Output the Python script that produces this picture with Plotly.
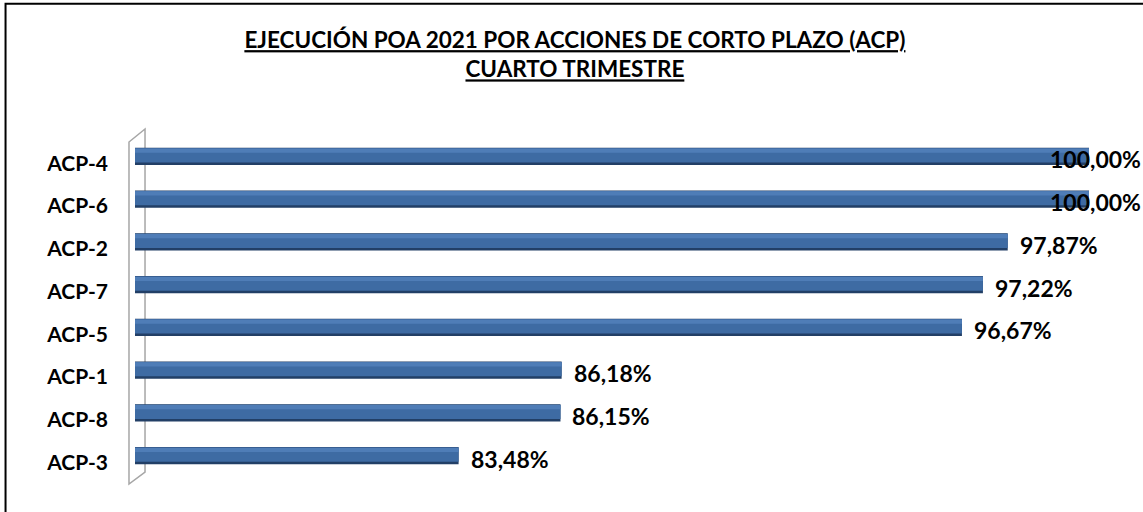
import plotly.graph_objects as go

# datos (de arriba hacia abajo)
acciones = ["ACP-4", "ACP-6", "ACP-2", "ACP-7", "ACP-5", "ACP-1", "ACP-8", "ACP-3"]
ejecucion = [100.00, 100.00, 97.87, 97.22, 96.67, 86.18, 86.15, 83.48]

titulo = "<u>EJECUCIÓN POA 2021 POR ACCIONES DE CORTO PLAZO (ACP)</u><br><u>CUARTO TRIMESTRE</u>"
fuente = "Lato"

fig = go.Figure()

# barra "cilindro": capa oscura, cuerpo y brillo
capas = [
    (-0.364, 0.40, "#223F66"),
    (-0.352, 0.33, "#3E6BA3"),
    (-0.350, 0.10, "#4F7DB7"),
]
for off, w, col in capas:
    fig.add_trace(go.Bar(
        x=ejecucion, y=acciones, orientation="h",
        offset=off, width=w,
        marker=dict(color=col, line=dict(width=0)),
        hoverinfo="skip", showlegend=False,
    ))

# etiquetas de valor
for a, v in zip(acciones, ejecucion):
    fig.add_annotation(
        x=v, y=a, xref="x", yref="y",
        text="<b>" + f"{v:.2f}".replace(".", ",") + "%</b>",
        showarrow=False, xanchor="left", yanchor="middle",
        xshift=-41 if v >= 99.5 else 10, yshift=4,
        font=dict(family=fuente, size=23, color="black"),
    )

fig.update_layout(
    width=1143, height=512,
    margin=dict(l=135, r=54, t=142, b=28),
    paper_bgcolor="white", plot_bgcolor="white",
    barmode="overlay",
    title=dict(
        text=titulo, x=0.503, xref="container", xanchor="center",
        y=0.906, yref="container", yanchor="top",
        font=dict(family=fuente, size=22.5, color="black", weight="bold"),
    ),
    xaxis=dict(range=[75, 100], visible=False, showgrid=False, zeroline=False, fixedrange=True),
    yaxis=dict(
        autorange="reversed", showgrid=False, zeroline=False, showline=False,
        ticks="", ticklabelstandoff=26, fixedrange=True,
        tickfont=dict(family=fuente, size=21, color="black", weight="bold"),
    ),
    shapes=[
        # pared lateral 3D
        dict(type="path", xref="paper", yref="paper", layer="below",
             path="M -0.0063,1.0 L 0.0105,1.038 L 0.0105,0.035 L -0.0063,0.0 Z",
             line=dict(color="#A6A6A6", width=1.5), fillcolor="white"),
        # borde del gráfico
        dict(type="path", xref="paper", yref="paper",
             path="M -0.1357,-0.2 L -0.1357,1.404 L 1.2,1.404",
             line=dict(color="black", width=2)),
    ],
)

fig.write_html("out.html", config={"displayModeBar": False},
               post_script="document.body.style.margin='0px';")
